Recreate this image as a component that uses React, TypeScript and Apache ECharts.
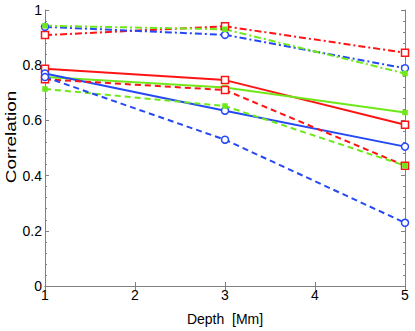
import React, { useEffect, useRef } from "react";
import * as echarts from "echarts";

const depths = [1, 3, 5];
const redDashDot = [0.909, 0.941, 0.845];
const blueDashDot = [0.939, 0.91, 0.789];
const greenDashDot = [0.943, 0.93, 0.77];
const redSolid = [0.787, 0.746, 0.584];
const greenSolid = [0.757, 0.719, 0.629];
const blueSolid = [0.77, 0.635, 0.505];
const redDashed = [0.749, 0.71, 0.436];
const greenDashed = [0.714, 0.652, 0.436];
const blueDashed = [0.757, 0.53, 0.229];
const yTicks = [0, 0.2, 0.4, 0.6, 0.8, 1];

const RED = "#ff1414";
const GREEN = "#6fe81a";
const BLUE = "#2448f5";

const DASH = [6, 4];
const DASHDOT = [7, 3, 2, 3];
const FONT = "Liberation Sans, Arial, Helvetica, sans-serif";

function mk(name: string, vals: number[], color: string, type: any, marker: string) {
  const isGreen = color === GREEN;
  return {
    name,
    type: "line",
    data: depths.map((d, i) => [d, vals[i]]),
    symbol: marker,
    symbolSize: isGreen ? 4 : 7,
    showSymbol: true,
    lineStyle: { color, width: 2, type },
    itemStyle: {
      color: isGreen ? color : "#ffffff",
      borderColor: color,
      borderWidth: 1.5,
    },
    z: 3,
  };
}

export default function App() {
  const ref = useRef<HTMLDivElement>(null);
  useEffect(() => {
    const chart = echarts.init(ref.current!, null, { renderer: "svg" });
    const axisLine = { show: true, lineStyle: { color: "#808080", width: 1 } };
    const tickStyle = { color: "#808080", width: 1 };
    chart.setOption({
      animation: false,
      backgroundColor: "#ffffff",
      textStyle: { fontFamily: FONT },
      grid: { left: 45, right: 10, top: 10, bottom: 36, containLabel: false },
      graphic: [
        {
          type: "text",
          x: 11,
          y: 137,
          rotation: Math.PI / 2,
          scaleX: 1.35,
          style: {
            text: "Correlation",
            font: "14px " + FONT,
            fill: "#000",
            textAlign: "center",
            textVerticalAlign: "middle",
          },
        },
      ],
      xAxis: [
        {
          type: "value",
          min: 1,
          max: 5,
          interval: 1,
          position: "bottom",
          name: "Depth  [Mm]",
          nameLocation: "middle",
          nameGap: 26,
          nameTextStyle: { color: "#000", fontSize: 14, fontFamily: FONT },
          axisLine,
          axisTick: { show: true, inside: true, length: 4, lineStyle: tickStyle },
          axisLabel: { color: "#000", fontSize: 14, margin: 2, fontFamily: FONT },
          splitLine: { show: false },
        },
        {
          type: "value",
          min: 1,
          max: 5,
          interval: 1,
          position: "top",
          axisLine,
          axisTick: { show: true, inside: true, length: 4, lineStyle: tickStyle },
          axisLabel: { show: false },
          splitLine: { show: false },
        },
      ],
      yAxis: [
        {
          type: "value",
          min: 0,
          max: 1,
          interval: 0.2,
          position: "left",
          axisLine,
          axisTick: { show: true, inside: true, length: 4, lineStyle: tickStyle },
          minorTick: { show: true, splitNumber: 5, length: 2, lineStyle: tickStyle },
          axisLabel: {
            color: "#000",
            fontSize: 14,
            margin: 3,
            fontFamily: FONT,
            formatter: (v: number) => {
              const t = yTicks.find((y) => Math.abs(y - v) < 1e-6);
              return t === undefined ? "" : String(Math.round(t * 10) / 10);
            },
          },
          splitLine: { show: false },
        },
        {
          type: "value",
          min: 0,
          max: 1,
          interval: 0.2,
          position: "right",
          axisLine,
          axisTick: { show: true, inside: true, length: 4, lineStyle: tickStyle },
          minorTick: { show: true, splitNumber: 5, length: 2, lineStyle: tickStyle },
          axisLabel: { show: false },
          splitLine: { show: false },
        },
      ],
      series: [
        mk("redDashDot", redDashDot, RED, DASHDOT, "rect"),
        mk("blueDashDot", blueDashDot, BLUE, DASHDOT, "circle"),
        mk("greenDashDot", greenDashDot, GREEN, DASHDOT, "rect"),
        mk("redSolid", redSolid, RED, "solid", "rect"),
        mk("greenSolid", greenSolid, GREEN, "solid", "rect"),
        mk("blueSolid", blueSolid, BLUE, "solid", "circle"),
        mk("redDashed", redDashed, RED, DASH, "rect"),
        mk("greenDashed", greenDashed, GREEN, DASH, "rect"),
        mk("blueDashed", blueDashed, BLUE, DASH, "circle"),
      ],
    });
    return () => chart.dispose();
  }, []);
  return <div ref={ref} style={{ width: 415, height: 331, position: "absolute", left: 0, top: 0 }} />;
}
